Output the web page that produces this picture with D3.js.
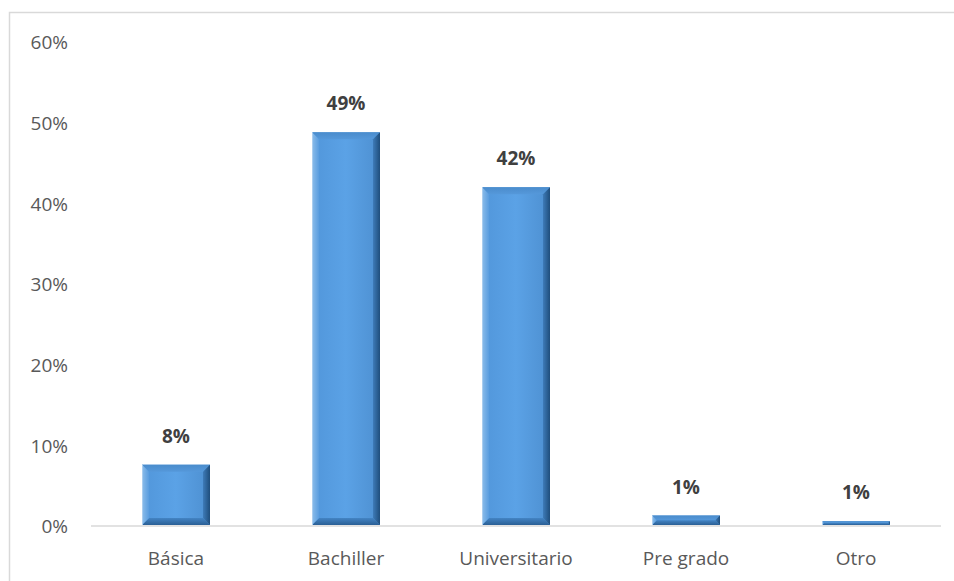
<!DOCTYPE html>
<html>
<head>
<meta charset="utf-8">
<script src="https://cdn.jsdelivr.net/npm/d3@7/dist/d3.min.js"></script>
<style>
  html, body { margin: 0; padding: 0; background: #fff; }
  svg { display: block; font-family: "Open Sans", "Liberation Sans", sans-serif; }
</style>
</head>
<body>
<svg id="chart" width="954" height="581"></svg>
<script>
// Nivel de instrucción (proporción de encuestados)
const categories = ["Básica", "Bachiller", "Universitario", "Pre grado", "Otro"];
const values = [0.076, 0.488, 0.42, 0.013, 0.006];
const yTicks = [0, 0.1, 0.2, 0.3, 0.4, 0.5, 0.6];

const svg = d3.select("#chart");
const W = 954, H = 581;

// chart frame
svg.append("rect")
  .attr("x", 9.5).attr("y", 12.5)
  .attr("width", W + 20).attr("height", H + 20)
  .attr("fill", "#fff").attr("stroke", "#d9d9d9").attr("stroke-width", 1.5);

const x = d3.scaleBand()
  .domain(categories)
  .range([91, 941])
  .paddingInner(0.6)
  .paddingOuter(0.3);

const y = d3.scaleLinear().domain([0, 0.6]).range([526, 42]);

const pct = d3.format(".0%");

// y axis labels (no axis line)
const yAxis = d3.axisLeft(y).tickValues(yTicks).tickFormat(pct).tickSize(0).tickPadding(0);
const gy = svg.append("g").attr("transform", "translate(68,0)").call(yAxis);
gy.select(".domain").remove();
gy.selectAll("text")
  .attr("fill", "#595959").attr("font-size", 19)
  .attr("font-family", "'Open Sans', sans-serif")
  .attr("dy", "0.36em");

// category axis
const xAxis = d3.axisBottom(x).tickSize(0).tickPadding(0);
const gx = svg.append("g").attr("transform", `translate(0,${y(0)})`).call(xAxis);
gx.select(".domain").attr("stroke", "#d9d9d9").attr("stroke-width", 1.5)
  .attr("d", `M91,0H941`);
gx.selectAll("text")
  .attr("fill", "#595959").attr("font-size", 19)
  .attr("font-family", "'Open Sans', sans-serif")
  .attr("y", 39).attr("dy", 0);

// gradients for bevelled bars
const defs = svg.append("defs");
function lin(id, x1, y1, x2, y2, stops) {
  const g = defs.append("linearGradient").attr("id", id)
    .attr("x1", x1).attr("y1", y1).attr("x2", x2).attr("y2", y2);
  stops.forEach(([o, c]) => g.append("stop").attr("offset", o).attr("stop-color", c));
}
lin("face", 0, 0, 1, 0, [[0, "#5196da"], [0.5, "#5ba2e6"], [1, "#4d8fd0"]]);
lin("leftEdge", 0, 0, 1, 0, [[0, "#8cbdea"], [1, "#5a9ddf"]]);
lin("rightEdge", 0, 0, 1, 0, [[0, "#3e7bb8"], [1, "#1f4e7c"]]);
lin("bottomEdge", 0, 0, 0, 1, [[0, "#4384c4"], [1, "#2a5f95"]]);
lin("topEdge", 0, 0, 0, 1, [[0, "#4a8ccc"], [1, "#5598da"]]);

const bars = svg.append("g").selectAll("g")
  .data(categories.map((c, i) => ({ c, v: values[i] })))
  .join("g");

bars.each(function (d) {
  const g = d3.select(this);
  const x0 = x(d.c), x1 = x0 + x.bandwidth();
  const y0 = y(d.v), y1 = y(0) - 1;
  const h = y1 - y0;
  const b = Math.min(7, h / 2);
  g.append("rect").attr("x", x0).attr("y", y0).attr("width", x1 - x0).attr("height", h)
    .attr("fill", "url(#face)");
  const poly = (pts, fill) => g.append("polygon")
    .attr("points", pts.map(p => p.join(",")).join(" ")).attr("fill", fill);
  poly([[x0, y0], [x1, y0], [x1 - b, y0 + b], [x0 + b, y0 + b]], "url(#topEdge)");
  poly([[x0, y1], [x1, y1], [x1 - b, y1 - b], [x0 + b, y1 - b]], "url(#bottomEdge)");
  poly([[x0, y0], [x0 + b, y0 + b], [x0 + b, y1 - b], [x0, y1]], "url(#leftEdge)");
  poly([[x1, y0], [x1 - b, y0 + b], [x1 - b, y1 - b], [x1, y1]], "url(#rightEdge)");
  g.append("line").attr("x1", x0 + 0.5).attr("x2", x0 + 0.5).attr("y1", y0).attr("y2", y1)
    .attr("stroke", "#a9cdef").attr("stroke-width", 1);
});

// value labels
svg.append("g").selectAll("text")
  .data(categories.map((c, i) => ({ c, v: values[i] })))
  .join("text")
  .attr("x", d => x(d.c) + x.bandwidth() / 2)
  .attr("y", d => y(d.v) - 22)
  .attr("text-anchor", "middle")
  .attr("font-size", 19).attr("font-weight", "bold")
  .attr("font-family", "'Open Sans', sans-serif")
  .attr("fill", "#404040")
  .text(d => pct(d.v));
</script>
</body>
</html>
